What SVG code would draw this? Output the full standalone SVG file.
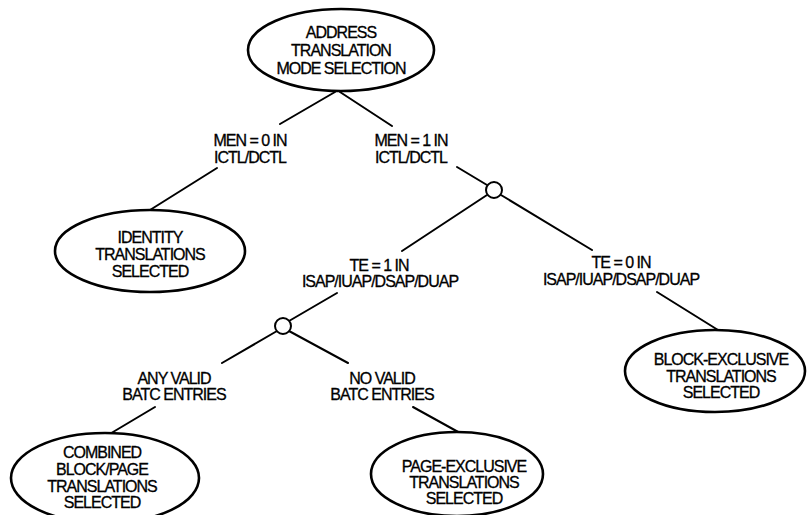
<svg xmlns="http://www.w3.org/2000/svg" width="807" height="515" viewBox="0 0 807 515">
<style>
.bg{fill:#fff}
.node ellipse{fill:#fff;stroke:#000;stroke-width:2.6}
.junction{fill:#fff;stroke:#000;stroke-width:2}
.edges line{stroke:#000;stroke-width:2;stroke-linecap:round}
text{font-family:"Liberation Sans",Arial,sans-serif;font-size:16px;letter-spacing:-1px;text-anchor:middle;fill:#000;stroke:#000;stroke-width:0.3}
</style>
<rect class="bg" x="0" y="0" width="807" height="515"/>
<g id="connectors" class="edges">
<line x1="335" y1="92" x2="280" y2="124"/>
<line x1="340" y1="92" x2="392" y2="126"/>
<line x1="217" y1="168" x2="150" y2="210"/>
<line x1="457" y1="167" x2="487" y2="185"/>
<line x1="487" y1="195" x2="402" y2="251"/>
<line x1="501" y1="195" x2="592" y2="250"/>
<line x1="337" y1="293" x2="289" y2="321"/>
<line x1="277" y1="331" x2="222" y2="363"/>
<line x1="289" y1="331" x2="348" y2="363"/>
<line x1="657" y1="292" x2="718" y2="330"/>
<line x1="155" y1="407" x2="108" y2="435"/>
<line x1="413" y1="407" x2="460" y2="433"/>
</g>
<g id="junction1"><circle class="junction" cx="494" cy="190" r="8"/></g>
<g id="junction2"><circle class="junction" cx="283" cy="326" r="8"/></g>
<g id="labels">
<text x="250" y="146">MEN = 0 IN</text>
<text x="250" y="163">ICTL/DCTL</text>
<text x="411" y="146">MEN = 1 IN</text>
<text x="411" y="163">ICTL/DCTL</text>
<text x="379" y="271">TE = 1 IN</text>
<text x="380" y="287">ISAP/IUAP/DSAP/DUAP</text>
<text x="621" y="268">TE = 0 IN</text>
<text x="621" y="285">ISAP/IUAP/DSAP/DUAP</text>
<text x="174" y="384">ANY VALID</text>
<text x="174" y="400">BATC ENTRIES</text>
<text x="382" y="384">NO VALID</text>
<text x="382" y="400">BATC ENTRIES</text>
</g>
<g id="root" class="node">
<ellipse cx="341" cy="50" rx="93" ry="41"/>
<text x="341" y="38">ADDRESS</text>
<text x="341" y="56">TRANSLATION</text>
<text x="341" y="74">MODE SELECTION</text>
</g>
<g id="identity" class="node">
<ellipse cx="150" cy="251" rx="95" ry="41"/>
<text x="150" y="243">IDENTITY</text>
<text x="150" y="260">TRANSLATIONS</text>
<text x="150" y="277">SELECTED</text>
</g>
<g id="block-exclusive" class="node">
<ellipse cx="715" cy="371" rx="90" ry="41"/>
<text x="721" y="365">BLOCK-EXCLUSIVE</text>
<text x="721" y="382">TRANSLATIONS</text>
<text x="721" y="398">SELECTED</text>
</g>
<g id="combined" class="node">
<ellipse cx="105" cy="478" rx="94" ry="45"/>
<text x="102" y="458">COMBINED</text>
<text x="102" y="475">BLOCK/PAGE</text>
<text x="102" y="492">TRANSLATIONS</text>
<text x="102" y="508">SELECTED</text>
</g>
<g id="page-exclusive" class="node">
<ellipse cx="457" cy="474" rx="86" ry="42"/>
<text x="464" y="472">PAGE-EXCLUSIVE</text>
<text x="464" y="488">TRANSLATIONS</text>
<text x="464" y="504">SELECTED</text>
</g>
</svg>
